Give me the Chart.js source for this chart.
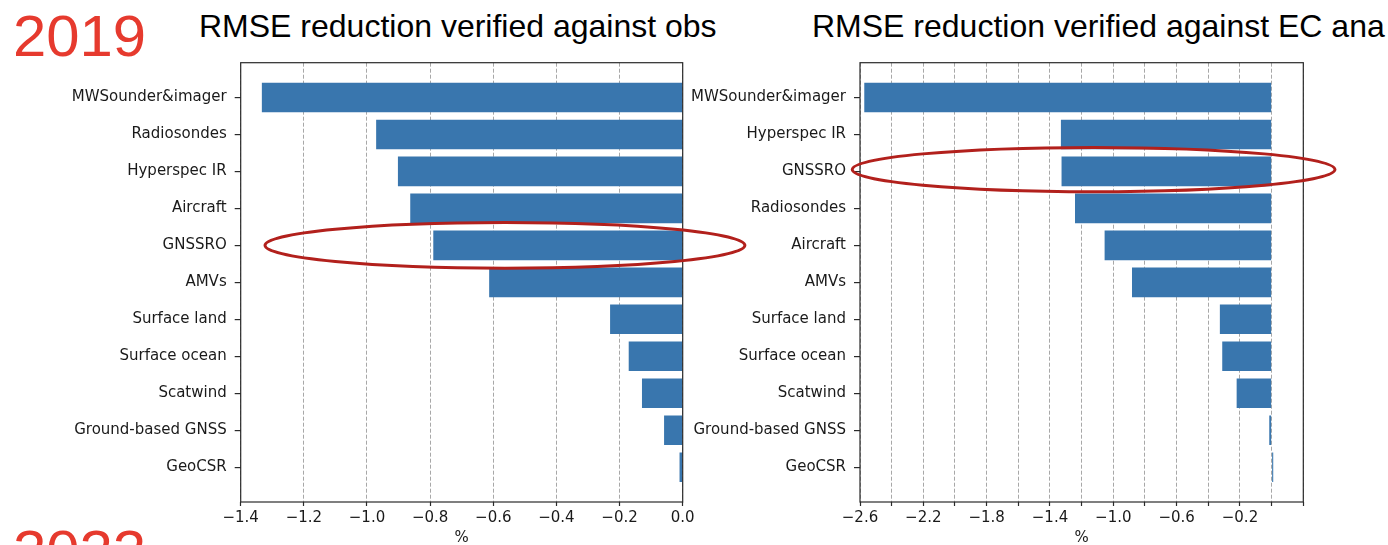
<!DOCTYPE html>
<html>
<head>
<meta charset="utf-8">
<script src="https://cdn.jsdelivr.net/npm/chart.js@4.4.0/dist/chart.umd.min.js"></script>
<style>
  html,body{margin:0;padding:0;background:#fff;}
  body{width:1388px;height:545px;overflow:hidden;position:relative;}
  .txt{position:absolute;white-space:nowrap;font-family:'Liberation Sans',Arial,sans-serif;line-height:1;}
  .year{transform:scaleX(1.05);transform-origin:left top;}
  canvas{position:absolute;top:0;}
</style>
</head>
<body>
<div class="txt year" style="left:13px;top:8px;font-size:57px;color:#e63a2e;">2019</div>
<div class="txt" style="left:199px;top:10px;font-size:32px;color:#000;">RMSE reduction verified against obs</div>
<div class="txt" style="left:812px;top:10px;font-size:32px;color:#000;">RMSE reduction verified against EC ana</div>
<div class="txt year" style="left:13px;top:523px;font-size:57px;color:#e63a2e;">2022</div>
<canvas id="right" width="700" height="545" style="left:688px;"></canvas>
<canvas id="left" width="760" height="545" style="left:0px;"></canvas>
<script>
// ---------- data ----------
const leftCategories = ['MWSounder&imager','Radiosondes','Hyperspec IR','Aircraft','GNSSRO','AMVs','Surface land','Surface ocean','Scatwind','Ground-based GNSS','GeoCSR'];
const leftValues = [-1.333, -0.971, -0.902, -0.863, -0.790, -0.613, -0.230, -0.171, -0.129, -0.059, -0.010];
const leftTickValues = [-1.4, -1.2, -1.0, -0.8, -0.6, -0.4, -0.2, 0.0];
const leftTickLabels = ['\u22121.4','\u22121.2','\u22121.0','\u22120.8','\u22120.6','\u22120.4','\u22120.2','0.0'];

const rightCategories = ['MWSounder&imager','Hyperspec IR','GNSSRO','Radiosondes','Aircraft','AMVs','Surface land','Surface ocean','Scatwind','Ground-based GNSS','GeoCSR'];
const rightValues = [-2.573, -1.331, -1.327, -1.242, -1.055, -0.882, -0.327, -0.312, -0.221, -0.015, 0.010];
const rightTickValues = [-2.6, -2.4, -2.2, -2.0, -1.8, -1.6, -1.4, -1.2, -1.0, -0.8, -0.6, -0.4, -0.2, 0.0, 0.2];
const rightTickLabels = ['\u22122.6','','\u22122.2','','\u22121.8','','\u22121.4','','\u22121.0','','\u22120.6','','\u22120.2','',''];

const xAxisTitle = '%';

// highlight ellipses (annotation), positioned through the scales
const leftHighlight = {category: 'GNSSRO', from: -1.323, to: 0.197, shift: 0.0, half: 0.62};
const rightHighlight = {category: 'GNSSRO', from: -2.649, to: 0.40, shift: -0.05, half: 0.60};

// ---------- style ----------
Chart.defaults.font.family = "'DejaVu Sans', sans-serif";
Chart.defaults.font.size = 15;
Chart.defaults.color = '#1a1a1a';

const BAR = 'rgb(57,118,174)';

const framePlugin = {
  id: 'frame',
  afterDatasetsDraw(chart) {
    const {ctx, chartArea: a} = chart;
    ctx.save();
    ctx.strokeStyle = '#2a2a2a';
    ctx.lineWidth = 1.2;
    ctx.strokeRect(a.left, a.top, a.right - a.left, a.bottom - a.top);
    ctx.restore();
  }
};

const ellipsePlugin = {
  id: 'ellipse',
  afterDraw(chart, args, opts) {
    const h = opts.highlight;
    if (!h) return;
    const cats = opts.categories;
    const idx = cats.indexOf(h.category);
    const xs = chart.scales.x, ys = chart.scales.y;
    const x1 = xs.getPixelForValue(h.from), x2 = xs.getPixelForValue(h.to);
    const cy = ys.getPixelForValue(idx + h.shift);
    const ry = Math.abs(ys.getPixelForValue(idx + h.shift + h.half) - cy);
    const ctx = chart.ctx;
    ctx.save();
    ctx.strokeStyle = 'rgb(178,32,28)';
    ctx.lineWidth = 3;
    ctx.beginPath();
    ctx.ellipse((x1 + x2) / 2, cy, Math.abs(x2 - x1) / 2, ry, 0, 0, Math.PI * 2);
    ctx.stroke();
    ctx.restore();
  }
};

function makeChart(id, categories, values, tickValues, tickLabels, xmin, xmax, yWidth, padRight, highlight) {
  return new Chart(document.getElementById(id), {
    type: 'bar',
    data: {
      datasets: [{
        data: values.map((v, i) => ({x: v, y: i})),
        backgroundColor: BAR,
        borderWidth: 0,
        barPercentage: 1.0,
        categoryPercentage: 0.8
      }]
    },
    options: {
      indexAxis: 'y',
      responsive: false,
      animation: false,
      devicePixelRatio: 1,
      layout: {padding: {left: 0, top: 62.7, right: padRight, bottom: 0}},
      plugins: {
        legend: {display: false},
        tooltip: {enabled: false},
        ellipse: {highlight: highlight, categories: categories}
      },
      scales: {
        x: {
          type: 'linear',
          min: xmin, max: xmax,
          offset: false,
          afterBuildTicks(scale) { scale.ticks = tickValues.map(v => ({value: v})); },
          afterFit(scale) { scale.height = 43; },
          ticks: {
            autoSkip: false, maxRotation: 0, padding: 3,
            callback(value, index) { return tickLabels[index]; }
          },
          grid: {
            display: true, drawOnChartArea: true, drawTicks: true, offset: false,
            color: '#a8a8a8', lineWidth: 1, tickLength: 4, tickColor: '#2a2a2a', tickWidth: 1.2
          },
          border: {display: false, dash: [4, 2]},
          title: {display: true, text: xAxisTitle, padding: 0, font: {size: 15, lineHeight: 0.95}, color: '#1a1a1a'}
        },
        y: {
          type: 'linear',
          reverse: true,
          offset: false,
          bounds: 'data',
          min: -0.94, max: categories.length - 1 + 0.94,
          afterBuildTicks(scale) { scale.ticks = categories.map((c, i) => ({value: i})); },
          afterFit(scale) { scale.width = yWidth; },
          ticks: {
            autoSkip: false, padding: 8,
            callback(value) { return categories[value]; }
          },
          grid: {display: true, drawOnChartArea: false, drawTicks: true, offset: false, tickLength: 6, color: '#2a2a2a', lineWidth: 1.2},
          border: {display: false}
        }
      }
    },
    plugins: [framePlugin, ellipsePlugin]
  });
}

makeChart('left', leftCategories, leftValues, leftTickValues, leftTickLabels, -1.4, 0.0, 240.7, 760 - 682.7, leftHighlight);
makeChart('right', rightCategories, rightValues, rightTickValues, rightTickLabels, -2.6, 0.2, 860 - 688, 700 - (1303.3 - 688), rightHighlight);
</script>
</body>
</html>
